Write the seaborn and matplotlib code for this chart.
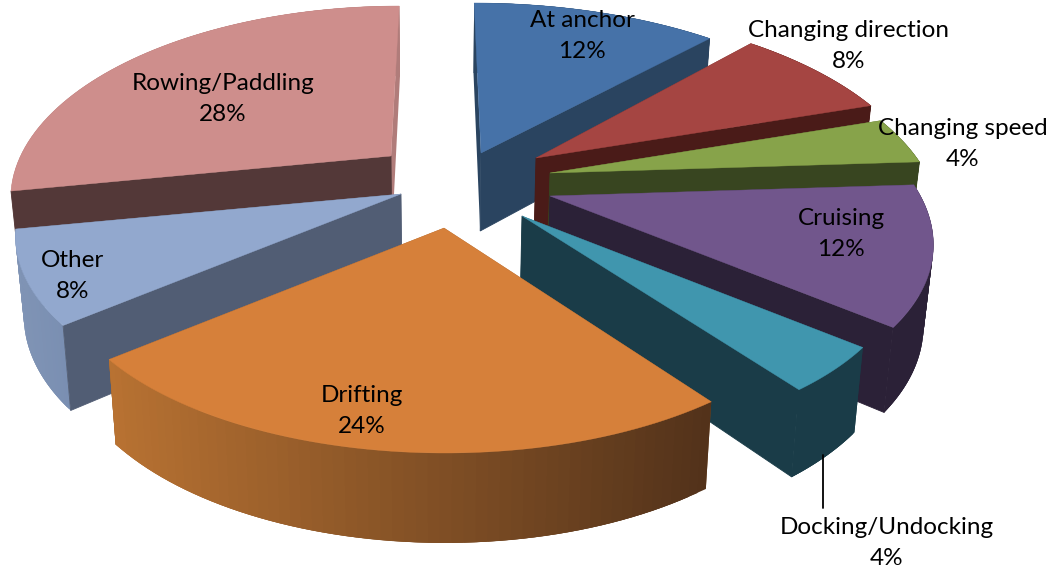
import numpy as np
import matplotlib.pyplot as plt
import seaborn as sns

# shares, clockwise from 12 o'clock
labels = ['At anchor', 'Changing direction', 'Changing speed', 'Cruising',
          'Docking/Undocking', 'Drifting', 'Other', 'Rowing/Paddling']
shares = [12, 8, 4, 12, 4, 24, 8, 28]

top_colors = ['#4672A8', '#A54542', '#87A34A', '#71568C', '#4096AE', '#D6803A', '#92A8CE', '#CE8E8C']
cut_colors = ['#2A4460', '#4A1B18', '#384520', '#2B2137', '#1A3C48', '#7A4A20', '#515D74', '#533838']
back_colors = ['#2A4460', '#4A1B18', '#384520', '#2B2137', '#1A3C48', '#7A4A20', '#515D74', '#B07C7A']
rim_left = ['#2A4460', '#4A1B18', '#384520', '#2B2137', '#1A3C48', '#B87232', '#8094B5', '#B07C7A']
rim_right = ['#2A4460', '#4A1B18', '#384520', '#2B2137', '#1A3C48', '#52321A', '#7A8FB2', '#B07C7A']

# where each slice tip sits after exploding, and its radius factor
tip_x = [481, 536, 550, 550, 522, 444, 401, 391]
tip_y = [153, 158, 173, 196, 216, 228, 194, 156]
radius = [1.03, 1.0, 0.99, 0.975, 0.98, 1.0, 0.99, 0.975]
# painter's order, back to front
order = [0, 7, 1, 2, 3, 6, 4, 5]
# cut face looking at the viewer: 1 = end of the slice, 0 = start, None = hidden behind the rim
front_cut = [1, 1, 1, 1, 1, None, 0, 0]

label_x = [582, 849, 963, 841, 887, 362, 73, 223]
label_y = [36, 46, 144, 234, 543, 411, 276, 99]

RX, RY, K = 380, 180, 0.2
VX = 440


def project(tip, theta, scale):
    u, v = np.sin(theta), np.cos(theta)
    f = 1 / (1 + K * v)
    x = VX + (tip[0] - VX + RX * scale * u) * f
    y = tip[1] - RY * v * f
    return x, y, f


def drop(x, y, f):
    # same point on the underside of the pie
    return VX + (x - VX) * 0.98, y + 30 + 48 * f


sns.set_theme(style='white')
plt.rcParams['font.family'] = ['Lato', 'DejaVu Sans']

fig = plt.figure(figsize=(10.55, 5.73), dpi=100)
ax = fig.add_axes([0, 0, 1, 1])
ax.set_xlim(0, 1055)
ax.set_ylim(573, 0)
ax.axis('off')

edges = 2 * np.pi * np.concatenate([[0], np.cumsum(shares)]) / sum(shares)


def cut_face(tip, theta, scale, color, width):
    x, y, f = project(tip, theta, scale)
    x2, y2 = drop(x, y, f)
    x0, y0 = drop(tip[0], tip[1], 1.0)
    ax.fill([tip[0], x, x2, x0], [tip[1], y, y2, y0], color=color, lw=width)


for i in order:
    tip = (tip_x[i], tip_y[i])
    cuts = [edges[i], edges[i + 1]]
    angles = np.linspace(cuts[0], cuts[1], 60)
    xs, ys, fs = project(tip, angles, radius[i])
    xb, yb = drop(xs, ys, fs)

    # faces turned away go first
    for k, theta in enumerate(cuts):
        if k != front_cut[i]:
            cut_face(tip, theta, radius[i], back_colors[i], 0)

    # rim, strips overlap so no seams show through the shading
    left = np.array(sns.color_palette([rim_left[i]])[0])
    right = np.array(sns.color_palette([rim_right[i]])[0])
    span = max(xs.max() - xs.min(), 1)
    for j in range(len(angles) - 1):
        j2 = min(j + 3, len(angles) - 1)
        c = left + (right - left) * ((xs[j] + xs[j + 1]) / 2 - xs.min()) / span
        ax.fill([xs[j], xs[j2], xb[j2], xb[j]], [ys[j], ys[j2], yb[j2], yb[j]],
                color=tuple(c), lw=0)

    if front_cut[i] is not None:
        cut_face(tip, cuts[front_cut[i]], radius[i], cut_colors[i], 0.6)

    ax.fill(np.r_[tip[0], xs], np.r_[tip[1], ys], color=top_colors[i], lw=0.3)

# leader line of the docking label
ax.plot([823, 823], [455, 508], color='black', lw=1.3)

for i, name in enumerate(labels):
    ax.text(label_x[i], label_y[i], f'{name}\n{shares[i]}%', ha='center', va='center',
            fontsize=17.5, color='black', linespacing=1.6)

fig.savefig('out.png', dpi=100)
